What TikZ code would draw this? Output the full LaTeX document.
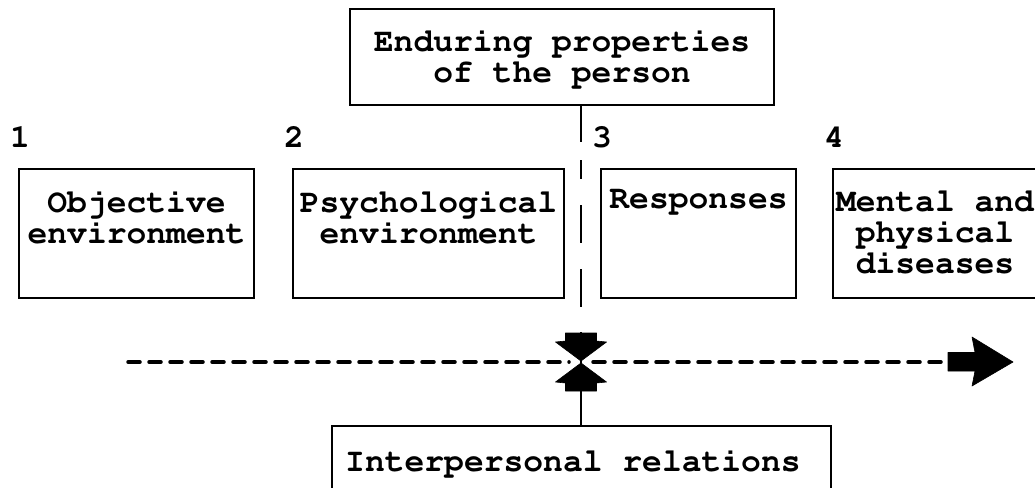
\documentclass[tikz,border=0pt]{standalone}
\usepackage[T1]{fontenc}
\usepackage{courier}
\begin{document}
\tikzset{
  box/.style={draw, line width=2pt, inner sep=0pt},
  lbl/.style={font=\ttfamily\bfseries\fontsize{33}{31}\selectfont, align=center, inner sep=0pt},
  num/.style={font=\ttfamily\bfseries\fontsize{33}{31}\selectfont, inner sep=0pt},
  link/.style={line width=2pt},
  flow/.style={line width=3.5pt, line cap=round, dash pattern=on 12pt off 9pt},
  head/.style={fill=black, draw=black, line width=0.6pt, line join=round},
}
\begin{tikzpicture}[x=1pt,y=-1pt]
\clip (0,0) rectangle (1035,487);
\useasboundingbox (0,0) rectangle (1035,487);

% stage boxes
\node[box, minimum width=424pt, minimum height=96pt, anchor=north west] (person) at (349,8) {};
\node[box, minimum width=235pt, minimum height=129pt, anchor=north west] (objective) at (18,168) {};
\node[box, minimum width=271pt, minimum height=129pt, anchor=north west] (psych) at (292,168) {};
\node[box, minimum width=195pt, minimum height=129pt, anchor=north west] (resp) at (600,168) {};
\node[box, minimum width=218pt, minimum height=129pt, anchor=north west] (disease) at (832,168) {};
\node[box, minimum width=499pt, minimum height=95pt, anchor=north west] (relations) at (331,425) {};

% box texts
\node[lbl, anchor=north] (tperson) at ([yshift=-21pt]person.north) {Enduring properties\\of the person};
\node[lbl, anchor=north] (tobjective) at ([yshift=-22pt]objective.north) {Objective\\environment};
\node[lbl, anchor=north] (tpsych) at ([yshift=-22pt]psych.north) {Psychological\\environment};
\node[lbl, anchor=north] (tresp) at ([yshift=-22pt]resp.north) {Responses};
\node[lbl, anchor=north] (tdisease) at ([xshift=-7pt,yshift=-22pt]disease.north) {Mental and\\physical\\diseases};
\node[lbl, anchor=base west] (trelations) at (345,471) {Interpersonal relations};

% stage numbers
\node[num, anchor=base west] (n1) at ([xshift=-8pt,yshift=21pt]objective.north west) {1};
\node[num, anchor=base west] (n2) at ([xshift=-8pt,yshift=21pt]psych.north west) {2};
\node[num, anchor=base west] (n3) at ([xshift=-8pt,yshift=21pt]resp.north west) {3};
\node[num, anchor=base west] (n4) at ([xshift=-8pt,yshift=21pt]disease.north west) {4};

% meeting point of the two influences and ends of the time axis
\coordinate (meet) at (581,362);
\coordinate (axisstart) at (128,362);
\coordinate (axisend) at (1013,362);

% influence of the person (dashed) and of relations (solid)
\draw[link, dash pattern=on 36pt off 18pt on 19pt off 26pt on 38pt off 26pt on 38pt off 25pt on 6pt]
  (person.south -| meet) -- ([yshift=-28pt]meet);
\draw[link] (relations.north -| meet) -- ([yshift=28pt]meet);

% time axis
\draw[flow] (axisstart) -- ([xshift=-12pt]meet);
\draw[flow] ([xshift=12pt]meet) -- ([xshift=-65pt]axisend);

% arrow heads
\fill[head, shift={(meet)}] (-15.5,-29) -- (15.5,-29) -- (15.5,-21) -- (25.5,-20) -- (0,-1)
  -- (-25.5,-20) -- (-15.5,-21) -- cycle;
\fill[head, shift={(meet)}] (-15.5,29) -- (15.5,29) -- (15.5,21) -- (25.5,20) -- (0,1)
  -- (-25.5,20) -- (-15.5,21) -- cycle;
\fill[head, shift={(axisend)}] (-65,-9.5) -- (-38,-9.5) -- (-41,-25) -- (0,0) -- (-41,24)
  -- (-38,9) -- (-65,9) -- cycle;
\end{tikzpicture}
\end{document}
